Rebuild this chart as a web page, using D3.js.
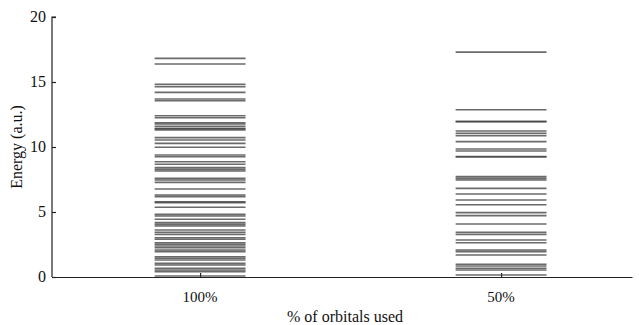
<!DOCTYPE html>
<html>
<head>
<meta charset="utf-8">
<script src="https://cdn.jsdelivr.net/npm/d3@7"></script>
<style>
  body { margin: 0; background: #fff; }
  text { font-family: "Liberation Serif", "DejaVu Serif", serif; fill: #111; }
</style>
</head>
<body>
<svg id="chart" width="639" height="325"></svg>
<script>
// categories on the x axis
const categories = ["100%", "50%"];
const yTicks = [0, 5, 10, 15, 20];

// energy levels (a.u.)
const levels100 = [
  16.82, 16.38, 14.82, 14.64, 14.2, 13.69, 13.56, 12.4, 12.25, 11.87, 11.77, 11.6,
  11.44, 11.38, 11.31, 10.72, 10.54, 10.28, 9.98, 9.38, 9.25, 8.87, 8.67, 8.41, 8.28,
  8.15, 7.59, 7.46, 7.28, 6.77, 6.31, 6.18, 5.79, 5.72, 5.36, 4.82, 4.69, 4.44, 4.18,
  4.05, 3.92, 3.62, 3.44, 3.28, 3.02, 2.9, 2.64, 2.52, 2.38, 2.25, 2.08, 1.95, 1.56,
  1.44, 1.31, 1.05, 0.92, 0.67, 0.54, 0.41, 0.08
];
const levels50 = [
  17.3, 12.87, 11.97, 11.94, 11.23, 11.05, 10.87, 10.41, 9.85, 9.69, 9.27, 9.23,
  7.72, 7.59, 7.46, 6.82, 6.38, 5.92, 5.56, 4.95, 4.72, 4.08, 3.44, 3.28, 2.85,
  2.64, 2.08, 1.95, 1.69, 0.98, 0.85, 0.67, 0.54, 0.15
];
const series = [levels100, levels50];

const svg = d3.select("#chart");

const x = d3.scaleLinear().domain([0.508, 2.435]).range([52, 632]);
const y = d3.scaleLinear().domain([0, 20]).range([277, 17]);
const halfW = 0.151;

// y axis
svg.append("g")
  .attr("transform", "translate(52,0)")
  .call(d3.axisRight(y).tickValues(yTicks).tickSize(4).tickFormat(""))
  .call(g => g.select(".domain").attr("d", `M4,${y(20)}H0V${y(0)}`))
  .call(g => g.selectAll("line,path").attr("stroke", "#222").attr("stroke-width", 1.2));

svg.selectAll(".ylab")
  .data(yTicks)
  .enter()
  .append("text")
  .attr("x", 46)
  .attr("y", d => y(d) + 5)
  .attr("text-anchor", "end")
  .style("font-size", "16px")
  .text(d => d);

// x axis
svg.append("g")
  .attr("transform", `translate(0,${y(0)})`)
  .call(d3.axisTop(x).tickValues([1, 2]).tickSize(4).tickFormat("").tickSizeOuter(0))
  .call(g => g.selectAll("line,path").attr("stroke", "#222").attr("stroke-width", 1.2));

svg.selectAll(".xlab")
  .data(categories)
  .enter()
  .append("text")
  .attr("x", (d, i) => x(i + 1))
  .attr("y", 302)
  .attr("text-anchor", "middle")
  .style("font-size", "15px")
  .text(d => d);

// energy level lines
series.forEach((vals, i) => {
  svg.append("g").selectAll("line")
    .data(vals)
    .enter()
    .append("line")
    .attr("x1", x(i + 1 - halfW))
    .attr("x2", x(i + 1 + halfW))
    .attr("y1", d => y(d))
    .attr("y2", d => y(d))
    .attr("stroke", "#3a3a3a")
    .attr("stroke-opacity", 0.75)
    .attr("stroke-width", 1.6);
});

// axis titles
svg.append("text")
  .attr("x", 345)
  .attr("y", 322)
  .attr("text-anchor", "middle")
  .style("font-size", "16px")
  .text("% of orbitals used");

svg.append("text")
  .attr("transform", "translate(22,147) rotate(-90)")
  .attr("text-anchor", "middle")
  .style("font-size", "16px")
  .text("Energy (a.u.)");
</script>
</body>
</html>
